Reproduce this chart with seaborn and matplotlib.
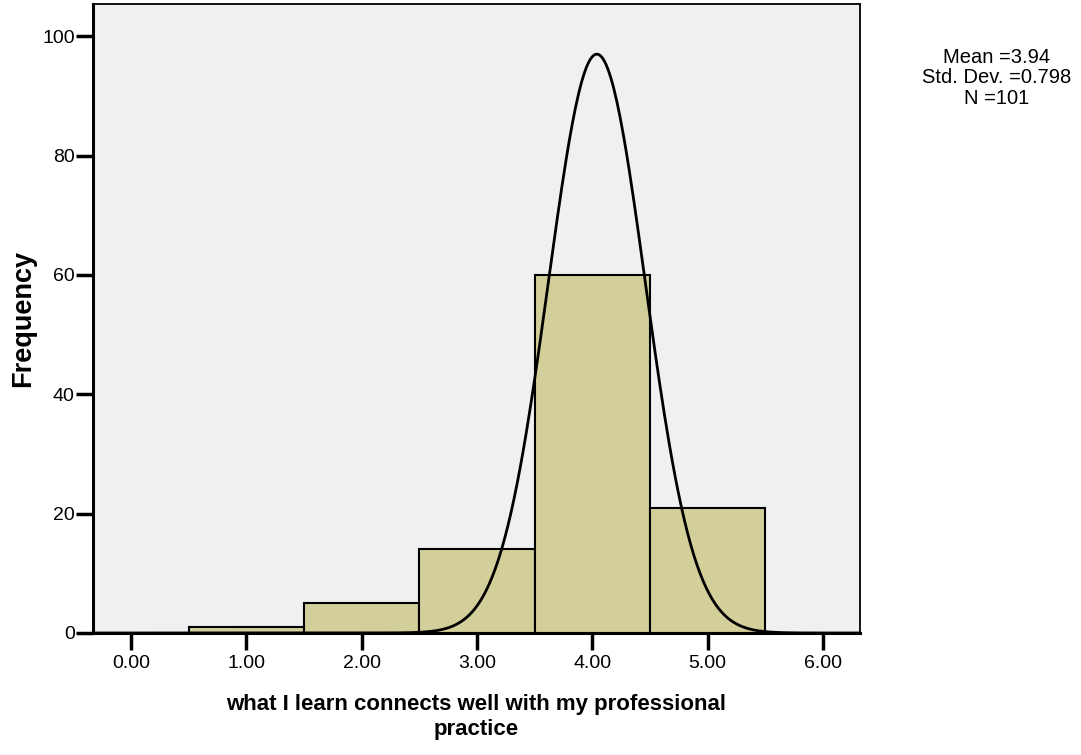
import numpy as np
import pandas as pd
import matplotlib
matplotlib.use('Agg')
import matplotlib.pyplot as plt
import seaborn as sns

# histogram counts
scores = [1, 2, 3, 4, 5]
counts = [1, 5, 14, 60, 21]
x_ticks = [0, 1, 2, 3, 4, 5, 6]
y_ticks = [0, 20, 40, 60, 80, 100]

# normal curve as drawn (peak height, centre, spread)
curve_peak = 97.0
curve_center = 4.04
curve_sigma = 0.42

stats_lines = ['Mean =3.94', 'Std. Dev. =0.798', 'N =101']
x_label = 'what I learn connects well with my professional\npractice'
y_label = 'Frequency'

sns.set_theme(style='white')
plt.rcParams['font.family'] = ['Liberation Sans', 'DejaVu Sans']
plt.rcParams['text.color'] = 'black'
plt.rcParams['axes.labelcolor'] = 'black'

fig = plt.figure(figsize=(10.81, 7.55), dpi=100)
ax = fig.add_axes([0.0858, 0.1616, 0.7098, 0.8331])
ax.set_facecolor('#f0f0f0')

df = pd.DataFrame({'score': scores, 'count': counts})
sns.histplot(data=df, x='score', weights='count', discrete=True,
             color='#d3cf9b', alpha=1, edgecolor='black', linewidth=1.5, ax=ax)

xs = np.linspace(-0.33, 6.32, 500)
curve = pd.DataFrame({'x': xs,
                      'y': curve_peak * np.exp(-0.5 * ((xs - curve_center) / curve_sigma) ** 2)})
sns.lineplot(data=curve, x='x', y='y', color='black', linewidth=2, ax=ax)

ax.set_xlim(-0.332, 6.323)
ax.set_ylim(0, 105.4)
ax.set_xticks(x_ticks)
ax.set_xticklabels([f'{t:.2f}' for t in x_ticks])
ax.set_yticks(y_ticks)

for side in ['left', 'bottom']:
    ax.spines[side].set_linewidth(2.2)
for side in ['top', 'right']:
    ax.spines[side].set_linewidth(1.3)
for s in ax.spines.values():
    s.set_color('black')

ax.tick_params(direction='out', length=12, width=2.5, labelsize=14, color='black',
               labelcolor='black', left=True, bottom=True)
ax.tick_params(axis='x', pad=4)
ax.tick_params(axis='y', pad=1)

ax.set_xlabel(x_label, fontsize=16, fontweight='bold', labelpad=16, linespacing=1.25)
ax.set_ylabel(y_label, fontsize=19.5, fontweight='bold', labelpad=4)

fig.text(0.922, 0.937, '\n'.join(stats_lines), ha='center', va='top',
         fontsize=14.5, linespacing=1.1)

fig.savefig('out.png', dpi=100)
